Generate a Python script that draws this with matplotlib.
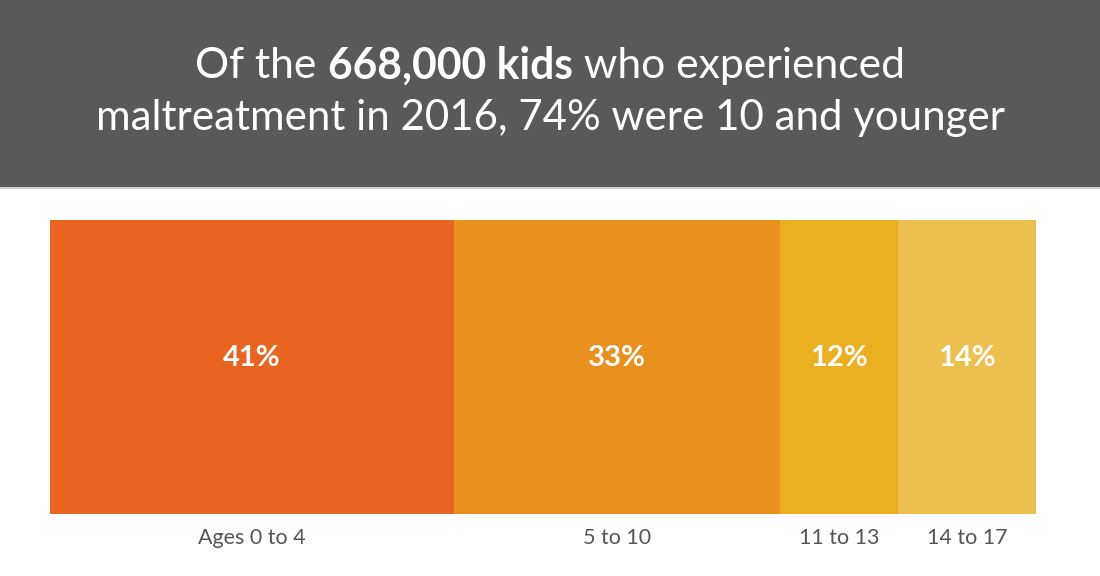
import matplotlib
matplotlib.use('Agg')
import matplotlib.pyplot as plt
from matplotlib.patches import Rectangle

# data
groups = ['Ages 0 to 4', '5 to 10', '11 to 13', '14 to 17']
shares = [41, 33, 12, 14]
colors = ['#E86420', '#E9901F', '#EAB022', '#EDBF4E']

plt.rcParams['font.family'] = ['Lato', 'DejaVu Sans']

fig = plt.figure(figsize=(11, 5.76), dpi=100)
fig.patch.set_facecolor('white')

# dark header band
fig.patches.append(Rectangle((0, 1 - 187 / 576), 1, 187 / 576, transform=fig.transFigure,
                             facecolor='#595959', edgecolor='none', zorder=0))
fig.patches.append(Rectangle((0, 1 - 189 / 576), 1, 2 / 576, transform=fig.transFigure,
                             facecolor='#d0d0d0', edgecolor='none', zorder=0))

# title, line 2 sized to span about 908 px
line2 = fig.text(0.5, 1 - 118 / 576, 'maltreatment in 2016, 74% were 10 and younger',
                 color='white', fontsize=30, ha='center', va='center')
fig.canvas.draw()
r = fig.canvas.get_renderer()
tsize = 30 * 908 / line2.get_window_extent(r).width
line2.set_fontsize(tsize)

# line 1 with a bold part
parts = [('Of the ', 'normal'), ('668,000 kids', 'bold'), (' who experienced', 'normal')]
y1 = 1 - 66 / 576
texts = []
for s, w in parts:
    texts.append(fig.text(0, y1, s, color='white', fontsize=tsize * 1.015, fontweight=w,
                          ha='left', va='center'))
fig.canvas.draw()
widths = [t.get_window_extent(r).width for t in texts]
x = (fig.bbox.width - sum(widths)) / 2
for t, wd in zip(texts, widths):
    t.set_x(x / fig.bbox.width)
    x += wd

# stacked bar
ax = fig.add_axes([50 / 1100, 1 - 514 / 576, 986 / 1100, 294 / 576])
left = 0
for g, v, c in zip(groups, shares, colors):
    ax.barh(0, v, left=left, height=1, color=c, edgecolor='none')
    ax.text(left + v / 2, 0.03, f'{v}%', color='white', fontsize=21, fontweight='bold',
            ha='center', va='center')
    ax.text(left + v / 2, -0.58, g, color='#555555', fontsize=15.5, ha='center', va='center')
    left += v
ax.set_xlim(0, sum(shares))
ax.set_ylim(-0.5, 0.5)
ax.axis('off')

fig.savefig('out.png', dpi=100)
